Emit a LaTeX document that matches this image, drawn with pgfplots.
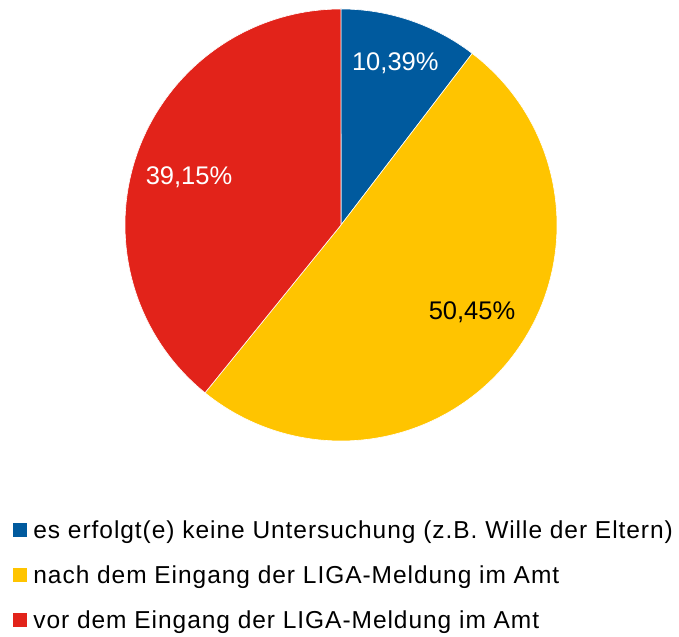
\documentclass[border=0pt]{standalone}
\usepackage{pgfplots}
\pgfplotsset{compat=1.18}
\usepackage{pgfplotstable}
\usepackage{fontspec}
\setmainfont{Liberation Sans}
\newfontfamily\legfam[LetterSpace=3.9]{Liberation Sans}
\definecolor{pblue}{RGB}{0,90,158}
\definecolor{pyellow}{RGB}{255,196,0}
\definecolor{pred}{RGB}{226,35,26}
\pgfplotstableread{
share lx ly
10.39 395.3 566
50.45 472 317.7
39.15 189 452.7
}\piedata
\pgfplotstablegetelem{0}{share}\of\piedata \let\sA\pgfplotsretval
\pgfplotstablegetelem{1}{share}\of\piedata \let\sB\pgfplotsretval
\pgfplotstablegetelem{2}{share}\of\piedata \let\sC\pgfplotsretval
\pgfmathsetmacro{\aA}{90-3.6*\sA}
\pgfmathsetmacro{\aB}{\aA-3.6*\sB}
\pgfmathsetmacro{\aC}{\aB-3.6*\sC}
\newcommand{\lblfont}{\fontsize{25.5bp}{30bp}\selectfont}
\newcommand{\legfont}{\legfam\fontsize{24.5bp}{28bp}\selectfont}
\begin{document}
\begin{tikzpicture}
\begin{axis}[
  scale only axis, width=679bp, height=637bp,
  xmin=0, xmax=679, ymin=0, ymax=637,
  hide axis, clip=false,
  legend cell align=left,
  legend style={draw=none, fill=none, inner sep=0pt, outer sep=0pt,
    at={(axis cs:13,116.5)}, anchor=north west, font=\legfont,
    row sep=27bp, column sep=7bp,
    nodes={inner sep=0pt, outer sep=0pt, text height=18bp, text depth=0bp}},
]
\path (axis cs:0,0) rectangle (axis cs:679,637);
\fill[pblue, draw=white, line width=0.6bp] (axis cs:341,412) -- ++(90:216bp) arc[start angle=90, end angle=\aA, radius=216bp] -- cycle;
\fill[pyellow, draw=white, line width=0.6bp] (axis cs:341,412) -- ++(\aA:216bp) arc[start angle=\aA, end angle=\aB, radius=216bp] -- cycle;
\fill[pred, draw=white, line width=0.6bp] (axis cs:341,412) -- ++(\aB:216bp) arc[start angle=\aB, end angle=\aC, radius=216bp] -- cycle;
\node[anchor=base, text=white, font=\lblfont, inner sep=0pt] at (axis cs:395.3,566) {10,39\%};
\node[anchor=base, text=black, font=\lblfont, inner sep=0pt] at (axis cs:472,317.7) {50,45\%};
\node[anchor=base, text=white, font=\lblfont, inner sep=0pt] at (axis cs:189,452.7) {39,15\%};
\addlegendimage{legend image code/.code={\fill[pblue] (0bp,-6.5bp) rectangle (13bp,6.5bp);}}
\addlegendentry{es erfolgt(e) keine Untersuchung (z.B. Wille der Eltern)}
\addlegendimage{legend image code/.code={\fill[pyellow] (0bp,-6.5bp) rectangle (13bp,6.5bp);}}
\addlegendentry{nach dem Eingang der LIGA-Meldung im Amt}
\addlegendimage{legend image code/.code={\fill[pred] (0bp,-6.5bp) rectangle (13bp,6.5bp);}}
\addlegendentry{vor dem Eingang der LIGA-Meldung im Amt}
\end{axis}
\end{tikzpicture}
\end{document}
